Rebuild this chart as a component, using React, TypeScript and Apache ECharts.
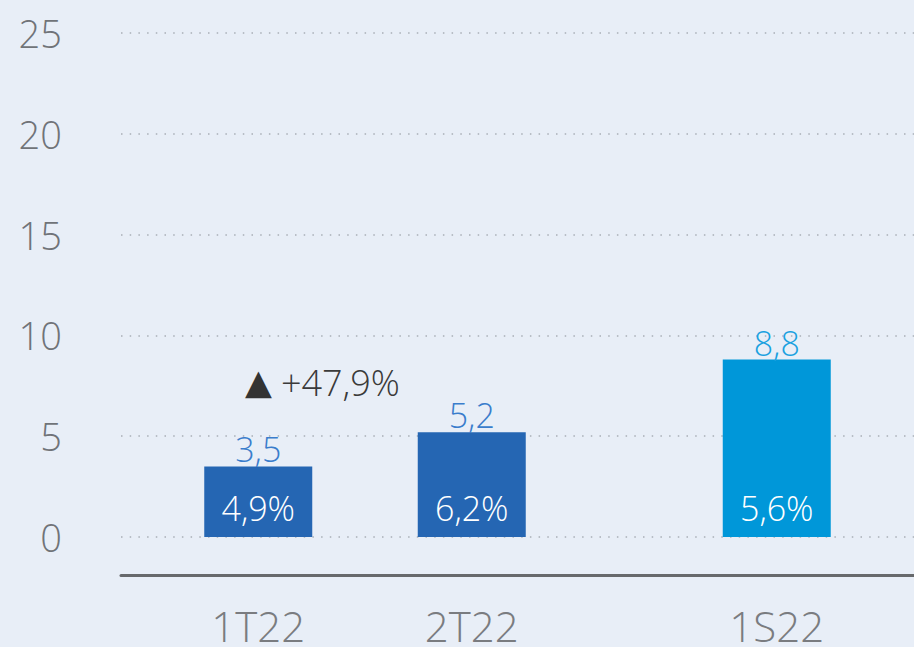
import React, { useEffect, useRef } from "react";
import * as echarts from "echarts";

const categories = ["1T22", "2T22", "1S22"];
const values = [3.5, 5.2, 8.8];
const valueLabels = ["3,5", "5,2", "8,8"];
const shareLabels = ["4,9%", "6,2%", "5,6%"];
const barColors = ["#2566b3", "#2566b3", "#0097d9"];
const valueLabelColors = ["#3a7dcc", "#3a7dcc", "#1aa1e0"];
const yMin = 0;
const yMax = 25;
const yStep = 5;
const growthLabel = "+47,9%";

// layout: the three bars sit in unevenly spaced slots of a category axis
const slotCount = 26;
const slotIndex = [4, 11, 21];

const FONT = "'Open Sans', 'Liberation Sans', sans-serif";

export default function App() {
  const ref = useRef<HTMLDivElement>(null);
  useEffect(() => {
    document.body.style.margin = "0";
    if (!ref.current) return;
    const chart = echarts.init(ref.current, undefined, { renderer: "svg" });

    const axisData: string[] = new Array(slotCount).fill("");
    const mainData: any[] = new Array(slotCount).fill("-");
    const shareData: any[] = new Array(slotCount).fill("-");
    categories.forEach((c, i) => {
      const k = slotIndex[i];
      axisData[k] = c;
      mainData[k] = {
        value: values[i],
        itemStyle: { color: barColors[i] },
        label: { color: valueLabelColors[i], formatter: valueLabels[i] },
      };
      shareData[k] = {
        value: values[i],
        label: { formatter: shareLabels[i] },
      };
    });

    chart.setOption({
      animation: false,
      backgroundColor: "#e8eef7",
      textStyle: { fontFamily: FONT },
      grid: { left: 121, right: 0, top: 33, bottom: 110, containLabel: false },
      xAxis: {
        type: "category",
        data: axisData,
        offset: 38,
        axisLine: { show: true, onZero: false, lineStyle: { color: "#67696c", width: 3 } },
        axisTick: { show: false },
        axisLabel: {
          interval: 0,
          color: "#7a7c80",
          fontSize: 42,
          fontWeight: 300,
          fontFamily: FONT,
          margin: 29,
        },
        splitLine: { show: false },
      },
      yAxis: {
        type: "value",
        min: yMin,
        max: yMax,
        interval: yStep,
        axisLine: { show: false },
        axisTick: { show: false },
        axisLabel: {
          color: "#707378",
          fontSize: 38,
          fontWeight: 300,
          fontFamily: FONT,
          margin: 59,
        },
        splitLine: {
          show: true,
          lineStyle: { color: "#a8aeb6", width: 1.5, type: [1.5, 7.2] },
        },
      },
      series: [
        {
          type: "bar",
          data: mainData,
          barWidth: 108,
          label: {
            show: true,
            position: "top",
            distance: 0,
            fontSize: 34,
            fontWeight: 300,
            fontFamily: FONT,
          },
        },
        {
          type: "bar",
          data: shareData,
          barWidth: 108,
          barGap: "-100%",
          itemStyle: { color: "rgba(0,0,0,0)" },
          label: {
            show: true,
            position: "insideBottom",
            distance: 12,
            color: "#ffffff",
            fontSize: 34,
            fontWeight: 300,
            fontFamily: FONT,
          },
          z: 3,
        },
      ],
      graphic: [
        {
          type: "text",
          left: 245,
          top: 364,
          style: {
            text: "{tri|▲}{t|" + growthLabel + "}",
            rich: {
              tri: {
                fontSize: 35,
                fill: "#333333",
                fontFamily: "'DejaVu Sans', sans-serif",
                padding: [0, 9, 0, 0],
              },
              t: { fontSize: 36, fill: "#3a3a3a", fontWeight: 300, fontFamily: FONT },
            },
          },
        },
      ],
    });
    return () => chart.dispose();
  }, []);
  return (
    <div
      ref={ref}
      style={{ position: "fixed", left: 0, top: 0, width: 914, height: 647 }}
    />
  );
}
